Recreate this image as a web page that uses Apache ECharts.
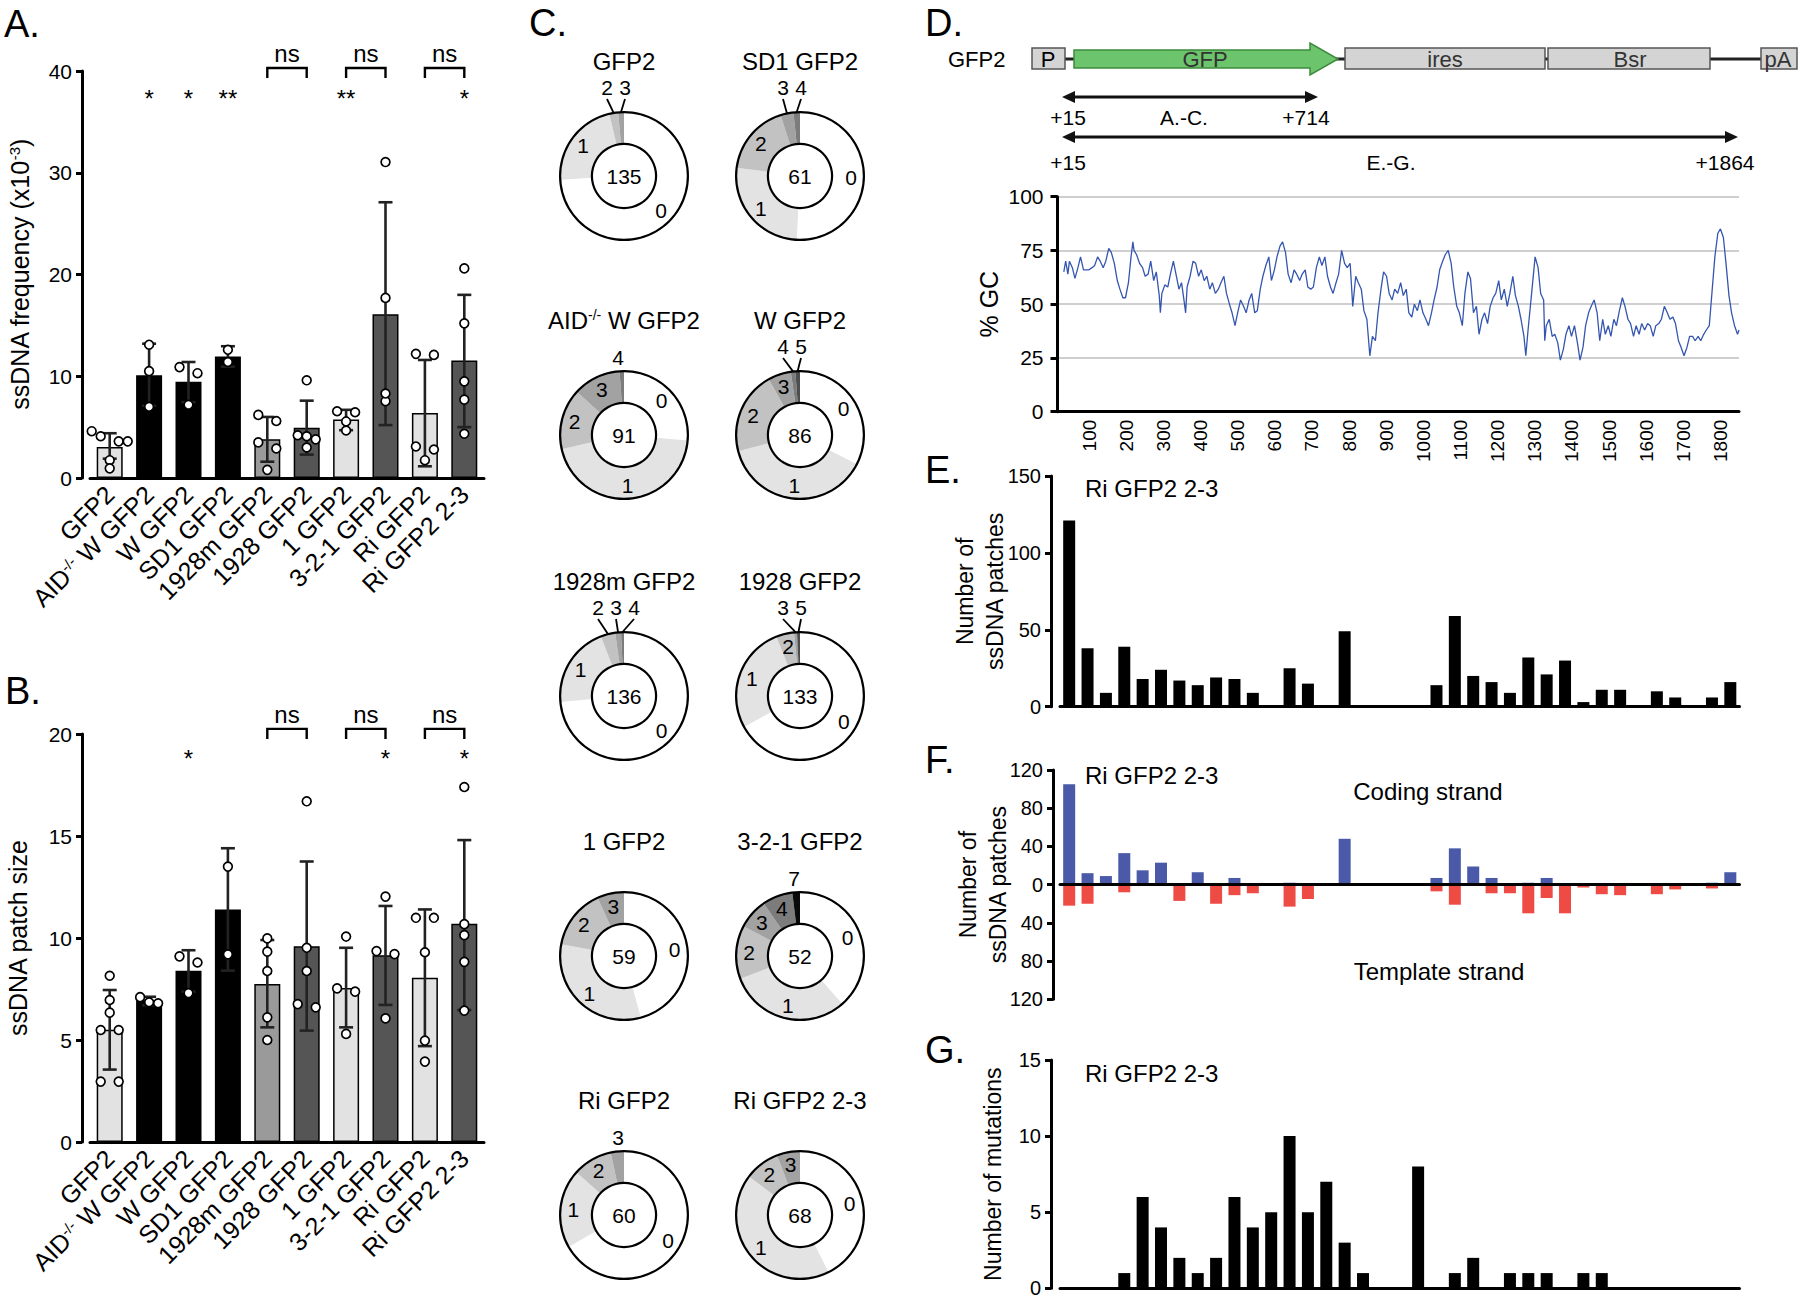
<!DOCTYPE html>
<html><head><meta charset="utf-8">
<script src="https://cdn.jsdelivr.net/npm/echarts@6.0.0/dist/echarts.min.js"></script>
<style>html,body{margin:0;padding:0;background:#fff}#c{width:1800px;height:1301px}</style>
</head><body><div id="c"></div>
<script>
// ---------------- DATA ----------------
const barCats = ['GFP2','AID-/- W GFP2','W GFP2','SD1 GFP2','1928m GFP2','1928 GFP2','1 GFP2','3-2-1 GFP2','Ri GFP2','Ri GFP2 2-3'];
// Panel A: ssDNA frequency (x10^-3)
const freqMean  = [3.05,10.1,9.47,11.95,3.8,4.95,5.75,16.1,6.4,11.55];
const freqErrLo = [1.9,7.1,7.45,10.95,1.6,2.3,4.7,5.2,1.15,5.0];
const freqErrHi = [4.4,13.2,11.4,12.95,6.0,7.6,6.7,27.1,11.6,18.0];
const freqPoints = [[4.6,4.1,3.6,3.6,1.75,0.95],[13.1,10.5,7.0],[10.9,10.3,7.2],[12.6,11.4],[6.2,5.6,3.5,2.9,0.8],[9.6,4.2,4.1,3.8,3.0],[6.46,6.56,5.56,4.67],[31.05,17.7,7.55,8.3],[12.2,12.1,3.1,2.8,1.75],[20.6,15.2,9.5,7.7,4.35]];
const starsA = ['','*','*','**','','','**','','','*'];
// Panel B: ssDNA patch size
const sizeMean  = [5.5,6.95,8.4,11.4,7.75,9.6,7.55,9.15,8.05,10.7];
const sizeErrLo = [3.55,6.7,7.37,8.4,5.62,5.46,5.62,6.72,4.7,6.47];
const sizeErrHi = [7.45,7.12,9.4,14.4,9.9,13.75,9.52,11.57,11.4,14.8];
const sizePoints = [[8.15,6.96,6.34,5.49,5.49,2.96,2.96],[7.1,6.85,6.8],[9.1,8.8,7.3],[13.5,9.2],[9.98,9.33,8.38,6.11,5.0],[16.7,9.52,8.38,6.6,6.76],[10.07,7.53,7.37,5.3],[12.03,9.36,9.21,6.06],[10.99,10.99,9.3,4.97,3.94],[17.4,10.68,10.14,8.83,6.44]];
const starsB = ['','','*','','','','','*','','*'];
const nsPairs = [[4,5],[6,7],[8,9]];
// Panel C: donuts (number of patches per sequence)
const donutNames  = ['GFP2','SD1 GFP2','AID-/- W GFP2','W GFP2','1928m GFP2','1928 GFP2','1 GFP2','3-2-1 GFP2','Ri GFP2','Ri GFP2 2-3'];
const donutTotals = [135,61,91,86,136,133,59,52,60,68];
const donutClasses = [[0,1,2,3],[0,1,2,3,4],[0,1,2,3,4],[0,1,2,3,4,5],[0,1,2,3,4],[0,1,2,3,5],[0,1,2,3],[0,1,2,3,4,7],[0,1,2,3],[0,1,2,3]];
const donutCounts  = [[100,30,3,2],[31,16,11,2,1],[24,41,14,11,1],[28,33,18,5,1,1],[100,28,5,2,1],[89,36,6,1,1],[27,19,9,4],[20,16,7,4,4,1],[40,12,6,2],[29,29,6,4]];
// Panel D: %GC trace [position, %GC]
const gcTicks = [100,200,300,400,500,600,700,800,900,1000,1100,1200,1300,1400,1500,1600,1700,1800];
const gcTrace = [[32,65],[37,70],[43,64],[47,70],[55,67],[62,62],[70,67],[77,72],[85,66],[92,66],[100,66],[108,67],[115,68],[123,72],[130,70],[138,67],[145,70],[153,76],[160,74],[168,69],[176,61],[183,57],[191,53],[198,53],[206,60],[213,72],[218,79],[221,75],[228,73],[236,69],[244,67],[251,63],[259,64],[266,70],[274,61],[281,65],[289,54],[292,46],[296,55],[304,59],[312,58],[319,64],[327,70],[334,64],[342,57],[349,60],[357,50],[360,46],[364,58],[372,63],[380,70],[387,69],[395,63],[402,66],[410,61],[417,63],[425,57],[432,60],[440,55],[448,57],[455,60],[463,63],[470,55],[478,50],[485,46],[493,40],[500,46],[508,52],[516,49],[523,46],[531,52],[538,55],[546,46],[553,47],[561,57],[568,63],[576,68],[584,72],[591,61],[599,66],[606,72],[614,77],[621,79],[629,74],[636,64],[644,60],[652,66],[659,64],[667,61],[674,64],[682,66],[689,58],[697,57],[704,58],[712,67],[720,72],[727,68],[735,72],[742,63],[750,58],[757,55],[765,60],[772,64],[780,75],[788,69],[795,67],[803,69],[810,49],[818,63],[825,60],[833,57],[840,47],[848,43],[856,26],[863,35],[871,33],[878,46],[886,57],[893,65],[901,63],[908,55],[916,52],[923,57],[931,55],[939,60],[946,54],[954,57],[961,46],[969,44],[976,50],[984,47],[991,52],[999,46],[1007,43],[1014,40],[1022,46],[1029,52],[1037,58],[1044,66],[1052,70],[1059,73],[1067,75],[1075,69],[1082,58],[1090,49],[1097,46],[1105,40],[1112,55],[1120,65],[1127,62],[1135,46],[1143,49],[1150,36],[1158,43],[1165,46],[1173,41],[1180,49],[1188,53],[1195,55],[1203,61],[1210,52],[1218,57],[1226,49],[1233,55],[1241,63],[1248,54],[1256,49],[1263,43],[1271,35],[1276,26],[1282,38],[1291,54],[1301,72],[1309,67],[1316,55],[1324,52],[1327,33],[1331,40],[1339,43],[1347,35],[1354,36],[1362,32],[1369,24],[1377,29],[1384,36],[1392,40],[1399,35],[1407,40],[1415,32],[1422,24],[1430,30],[1437,40],[1445,46],[1452,49],[1460,52],[1468,46],[1475,33],[1483,43],[1490,36],[1498,40],[1505,35],[1513,43],[1520,40],[1528,47],[1536,53],[1543,49],[1551,43],[1558,41],[1566,35],[1573,40],[1581,36],[1588,41],[1596,38],[1604,41],[1611,40],[1619,35],[1626,40],[1634,41],[1641,43],[1649,49],[1657,46],[1664,43],[1672,44],[1679,41],[1687,33],[1694,30],[1702,26],[1710,30],[1717,35],[1725,35],[1732,33],[1740,35],[1747,33],[1755,36],[1762,38],[1770,40],[1777,55],[1785,72],[1793,83],[1800,85],[1808,81],[1815,69],[1823,54],[1830,46],[1838,40],[1846,36],[1850,38]];
// Panels E-G: 50-nt bins from +15 to +1864
const binStarts = [15,65,115,165,215,265,315,365,415,465,515,565,615,665,715,765,815,865,915,965,1015,1065,1115,1165,1215,1265,1315,1365,1415,1465,1515,1565,1615,1665,1715,1765,1815];
const patchCounts    = [121,38,9,39,18,24,17,14,19,18,9,0,25,15,0,49,0,0,0,0,14,59,20,16,9,32,21,30,3,11,11,0,10,6,0,6,16];
const codingCounts   = [105,12,9,33,15,23,0,13,0,7,0,0,2,0,0,48,0,0,0,0,7,38,19,7,0,2,7,0,0,0,0,0,0,0,0,2,13];
const templateCounts = [22,20,0,8,0,0,17,0,20,11,9,0,23,15,0,0,0,0,0,0,7,21,0,9,9,30,14,30,3,10,11,0,10,5,0,4,0];
const mutationCounts = [0,0,0,1,6,4,2,1,2,6,4,5,10,5,7,3,1,0,0,8,0,1,2,0,1,1,1,0,1,1,0,0,0,0,0,0,0];

// ---------------- STYLE ----------------
const FONT = '"Liberation Sans", Arial, Helvetica, sans-serif';
const barColors = ['#e2e2e2','#000000','#000000','#000000','#9a9a9a','#555555','#e2e2e2','#555555','#e2e2e2','#555555'];
const classColor = {0:'#ffffff',1:'#e3e3e3',2:'#c2c2c2',3:'#a2a2a2',4:'#7c7c7c',5:'#4e4e4e',7:'#0a0a0a'};
const AX = {color:'#000', width:3};

const chart = echarts.init(document.getElementById('c'), null, {renderer:'svg', width:1800, height:1301});

const barRich = {n:{fontSize:25,color:'#000',fontFamily:FONT}, s:{fontSize:15,color:'#000',verticalAlign:'top',fontFamily:FONT}};
function catLabel(v){ return v.indexOf('AID-/-')===0 ? '{n|AID}{s|-/-}{n|'+v.slice(6)+'}' : '{n|'+v+'}'; }

function swarmOffsets(ys, thr, d){
  const idx = ys.map((y,i)=>i).sort((a,b)=>ys[a]-ys[b]);
  const offs = ys.map(()=>0);
  const rows = []; let row=[idx[0]];
  for(let k=1;k<idx.length;k++){
    if(Math.abs(ys[idx[k]]-ys[idx[k-1]])<thr) row.push(idx[k]); else {rows.push(row); row=[idx[k]];}
  }
  rows.push(row);
  rows.forEach(r=>{ const n=r.length; r.forEach((p,q)=>{ const s = n%2 ? q-(n-1)/2 : (q<n/2 ? q-n/2 : q-n/2+1); offs[p]=s*d; }); });
  return offs;
}

function barPanel(ai, mean, lo, hi, points, stars, starY, brTop, brLeg, nsY){
  const out = [];
  out.push({type:'bar', xAxisIndex:ai, yAxisIndex:ai, barWidth:26, z:2, silent:true,
    itemStyle:{borderColor:'#000', borderWidth:1.5},
    data: mean.map((v,i)=>({value:v, itemStyle:{color:barColors[i]}}))});
  out.push({type:'custom', xAxisIndex:ai, yAxisIndex:ai, z:3, silent:true, clip:false,
    data: mean.map((m,i)=>[i, lo[i], hi[i]]),
    renderItem:(p,api)=>{
      const c=api.value(0), a=api.coord([c,api.value(1)]), b=api.coord([c,api.value(2)]), w=7;
      const st={stroke:'#222', lineWidth:2.6};
      return {type:'group', children:[
        {type:'line', shape:{x1:a[0],y1:a[1],x2:b[0],y2:b[1]}, style:st},
        {type:'line', shape:{x1:b[0]-w,y1:b[1],x2:b[0]+w,y2:b[1]}, style:st},
        {type:'line', shape:{x1:a[0]-w,y1:a[1],x2:a[0]+w,y2:a[1]}, style:st}]};
    }});
  const dots=[]; points.forEach((arr,i)=>arr.forEach((v,j)=>dots.push([i,v,j])));
  out.push({type:'custom', xAxisIndex:ai, yAxisIndex:ai, z:4, silent:true, clip:false, data:dots,
    renderItem:(p,api)=>{
      const c=api.value(0), j=api.value(2), vals=points[c];
      const ys=vals.map(v=>api.coord([c,v])[1]);
      const offs=swarmOffsets(ys,7.5,9);
      const x0=api.coord([c,vals[j]])[0];
      return {type:'circle', shape:{cx:x0+offs[j], cy:ys[j], r:4.4}, style:{fill:'#fff', stroke:'#000', lineWidth:1.7}};
    }});
  out.push({type:'custom', xAxisIndex:ai, yAxisIndex:ai, z:5, silent:true, clip:false,
    data: stars.map((s,i)=>[i]),
    renderItem:(p,api)=>{
      const s=stars[p.dataIndex]; if(!s) return null;
      const pt=api.coord([p.dataIndex, starY]);
      return {type:'text', x:pt[0], y:pt[1], style:{text:s, fill:'#000', font:'24px '+FONT, align:'center', verticalAlign:'middle', textAlign:'center', textVerticalAlign:'middle'}};
    }});
  out.push({type:'custom', xAxisIndex:ai, yAxisIndex:ai, z:5, silent:true, clip:false,
    data: nsPairs.map((pr,i)=>[i]),
    renderItem:(p,api)=>{
      const pr=nsPairs[p.dataIndex];
      const a=api.coord([pr[0],brTop]), b=api.coord([pr[1],brTop]), aL=api.coord([pr[0],brLeg]), bL=api.coord([pr[1],brLeg]);
      const t=api.coord([pr[0],nsY]);
      return {type:'group', children:[
        {type:'polyline', shape:{points:[[aL[0],aL[1]],[a[0],a[1]],[b[0],b[1]],[bL[0],bL[1]]]}, style:{stroke:'#000', lineWidth:2.4, fill:null}},
        {type:'text', x:(a[0]+b[0])/2, y:t[1], style:{text:'ns', fill:'#000', font:'24px '+FONT, align:'center', verticalAlign:'middle', textAlign:'center', textVerticalAlign:'middle'}}]};
    }});
  return out;
}

function barXAxis(gi){
  return {type:'category', gridIndex:gi, data:barCats, z:5,
    axisLine:{lineStyle:AX}, axisTick:{alignWithLabel:true, length:7, lineStyle:AX},
    axisLabel:{interval:0, rotate:45, margin:12, formatter:catLabel, rich:barRich}, splitLine:{show:false}};
}
function valYAxis(gi, min, max, interval, offset, name, nameGap, extra){
  return Object.assign({type:'value', gridIndex:gi, min, max, interval, offset,
    axisLine:{show:true, lineStyle:AX}, axisTick:{show:true, length:6, lineStyle:AX},
    axisLabel:{fontSize:21, color:'#000', margin:10, fontFamily:FONT}, splitLine:{show:false},
    name, nameLocation:'middle', nameRotate:90, nameGap, nameMoveOverlap:false,
    nameTextStyle:{fontSize:25, color:'#000', fontFamily:FONT}}, extra||{});
}
function binXAxis(gi){
  return {type:'category', gridIndex:gi, data:binStarts, z:5,
    axisLine:{onZero:true, lineStyle:AX}, axisTick:{show:false}, axisLabel:{show:false}, splitLine:{show:false}};
}

const G = (l,t,w,h)=>({left:l, top:t, width:w, height:h, containLabel:false, outerBoundsMode:'none'});
const grids = [G(90,71,394,407), G(90,734,394,408), G(1057.5,196.7,681.5,215), G(1060,476,679.5,230.7), G(1060,770,679.5,229.3), G(1060,1060,679.5,228.3)];

const xAxes = [barXAxis(0), barXAxis(1),
  {type:'value', gridIndex:2, min:15, max:1850, z:5,
    axisLine:{lineStyle:AX}, axisTick:{show:false},
    axisLabel:{rotate:90, fontSize:19, color:'#000', margin:8, customValues:gcTicks, fontFamily:FONT, formatter:v=>String(v)},
    splitLine:{show:false}},
  binXAxis(3), binXAxis(4), binXAxis(5)];

const yAxes = [
  valYAxis(0,0,40,10,8,'ssDNA frequency (x10{sup|-3})',50,{nameTextStyle:{fontSize:25,color:'#000',fontFamily:FONT,rich:{sup:{fontSize:15,verticalAlign:'top',fontFamily:FONT}}}}),
  valYAxis(1,0,20,5,8,'ssDNA patch size',52),
  valYAxis(2,0,100,25,0,'% GC',56,{axisTick:{show:true,length:7,lineStyle:AX}, axisLabel:{fontSize:21,color:'#000',margin:14,fontFamily:FONT}, splitLine:{show:true, lineStyle:{color:'#cfcfcf', width:2}}, nameTextStyle:{fontSize:25,color:'#000',fontFamily:FONT}}),
  valYAxis(3,0,150,50,9,'Number of\nssDNA patches',41,{axisLabel:{fontSize:20,color:'#000',margin:10,fontFamily:FONT}, nameTextStyle:{fontSize:23,lineHeight:30,color:'#000',fontFamily:FONT}}),
  valYAxis(4,-120,120,40,7,'Number of\nssDNA patches',40,{axisLabel:{fontSize:20,color:'#000',margin:10,fontFamily:FONT,formatter:v=>String(Math.abs(v))}, nameTextStyle:{fontSize:23,lineHeight:30,color:'#000',fontFamily:FONT}}),
  valYAxis(5,0,15,5,9,'Number of mutations',47,{axisLabel:{fontSize:20,color:'#000',margin:10,fontFamily:FONT}, nameTextStyle:{fontSize:23,color:'#000',fontFamily:FONT}})
];

let series = [];
series = series.concat(barPanel(0, freqMean, freqErrLo, freqErrHi, freqPoints, starsA, 37.25, 40.3, 39.3, 41.7));
series = series.concat(barPanel(1, sizeMean, sizeErrLo, sizeErrHi, sizePoints, starsB, 18.82, 20.25, 19.75, 20.95));

series.push({type:'line', xAxisIndex:2, yAxisIndex:2, data:gcTrace, showSymbol:false, symbol:'none', silent:true, z:3,
  lineStyle:{color:'#3556b0', width:1.3}});

series.push({type:'bar', xAxisIndex:3, yAxisIndex:3, data:patchCounts, barWidth:12, silent:true, itemStyle:{color:'#000'}});
series.push({type:'bar', xAxisIndex:4, yAxisIndex:4, data:codingCounts, barWidth:12, barGap:'-100%', silent:true, itemStyle:{color:'#4b5aa8'}});
series.push({type:'bar', xAxisIndex:4, yAxisIndex:4, data:templateCounts.map(v=>-v), barWidth:12, barGap:'-100%', silent:true, itemStyle:{color:'#ee4b45'}});
series.push({type:'bar', xAxisIndex:5, yAxisIndex:5, data:mutationCounts, barWidth:12, silent:true, itemStyle:{color:'#000'}});

// ---- donuts ----
const donutCX = [624, 800], donutCY = [176, 435, 696, 956, 1215];
const R_OUT = 64, R_IN = 32;
function donutLabelLayout(counts, cx, cy){
  const total = counts.reduce((a,b)=>a+b,0);
  const small = counts.map(c=>c/total<0.04);
  const smallIdx = counts.map((c,i)=>i).filter(i=>small[i]);
  const k = smallIdx.length;
  return function(params){
    const i = params.dataIndex;
    if(!small[i]) return {};
    if(k===1) return {x:cx-6, y:cy-R_OUT-3, align:'center', verticalAlign:'bottom'};
    let cum=0; for(let q=0;q<i;q++) cum+=counts[q];
    const ang = 2*Math.PI*(cum+counts[i]/2)/total;
    const sx = cx+R_OUT*Math.sin(ang), sy = cy-R_OUT*Math.cos(ang);
    const j = smallIdx.indexOf(i);
    const lx = cx-8+(j-(k-1)/2)*18, ly = cy-R_OUT-14;
    return {x:lx, y:ly, align:'center', verticalAlign:'bottom', labelLinePoints:[[sx,sy],[lx,ly+1],[lx,ly+1]]};
  };
}
donutNames.forEach((nm,d)=>{
  const cx = donutCX[d%2], cy = donutCY[Math.floor(d/2)];
  const counts = donutCounts[d], cls = donutClasses[d];
  const total = counts.reduce((a,b)=>a+b,0);
  const k = counts.filter(c=>c/total<0.04).length;
  series.push({type:'pie', center:[cx,cy], radius:[R_IN,R_OUT], startAngle:90, clockwise:true, avoidLabelOverlap:false,
    silent:true, animation:false, z:2, itemStyle:{borderWidth:0},
    label:{show:true, color:'#000', fontSize:21, fontFamily:FONT, formatter:'{b}'},
    labelLine:{show:false, length:10, length2:0, lineStyle:{color:'#000', width:1.8}},
    labelLayout: donutLabelLayout(counts, cx, cy),
    data: counts.map((c,i)=>{ const sm=c/total<0.04; return {value:c, name:String(cls[i]), itemStyle:{color:classColor[cls[i]]},
      label:{position: sm?'outside':'inside'}, labelLine:{show: sm && k>1}}; })});
  series.push({type:'pie', center:[cx,cy], radius:[R_OUT-1.2,R_OUT+1], silent:true, animation:false, z:3,
    itemStyle:{color:'#000', borderWidth:0}, label:{show:false}, labelLine:{show:false}, data:[{value:1,name:''}]});
  series.push({type:'pie', center:[cx,cy], radius:[R_IN-1,R_IN+1.2], silent:true, animation:false, z:3,
    itemStyle:{color:'#000', borderWidth:0}, labelLine:{show:false},
    label:{show:true, position:'center', formatter:String(donutTotals[d]), fontSize:21, color:'#000', fontFamily:FONT},
    data:[{value:1,name:''}]});
});

// ---- graphic texts & gene map ----
const graphics = [];
function txt(x,y,text,size,opt){
  graphics.push({type:'text', x, y, silent:true, z:10,
    style:Object.assign({text, fill:'#000', font:size+'px '+FONT, textAlign:'left', textVerticalAlign:'middle'}, opt||{})});
}
[['A.',4,24],['B.',5,691],['C.',529,23],['D.',925,23],['E.',925,470],['F.',925,760],['G.',925,1050]].forEach(a=>txt(a[1],a[2],a[0],38));
donutNames.forEach((nm,d)=>{
  const cx = donutCX[d%2], cy = donutCY[Math.floor(d/2)];
  if(nm.indexOf('AID-/-')===0){
    txt(cx, cy-115, '{n|AID}{s|-/-}{n|'+nm.slice(6)+'}', 24, {textAlign:'center',
      rich:{n:{fontSize:24,fontFamily:FONT,fill:'#000',color:'#000'}, s:{fontSize:14,fontFamily:FONT,verticalAlign:'top',fill:'#000',color:'#000'}}});
  } else txt(cx, cy-115, nm, 24, {textAlign:'center'});
});
// gene map
graphics.push({type:'line', silent:true, z:8, shape:{x1:1065,y1:59,x2:1762,y2:59}, style:{stroke:'#222', lineWidth:3}});
const boxSt = {fill:'#d4d4d4', stroke:'#555', lineWidth:1.5};
graphics.push({type:'rect', silent:true, z:9, shape:{x:1032,y:48,width:33,height:21}, style:boxSt});
graphics.push({type:'polygon', silent:true, z:9, shape:{points:[[1074,50],[1310,50],[1310,43],[1338,59],[1310,75],[1310,68],[1074,68]]}, style:{fill:'#6cc46c', stroke:'#3d8a3d', lineWidth:1.5}});
graphics.push({type:'rect', silent:true, z:9, shape:{x:1345,y:48,width:200,height:21}, style:boxSt});
graphics.push({type:'rect', silent:true, z:9, shape:{x:1548,y:48,width:162,height:21}, style:boxSt});
graphics.push({type:'rect', silent:true, z:9, shape:{x:1761,y:48,width:36,height:21}, style:boxSt});
txt(948,59,'GFP2',22);
txt(1048,59,'P',22,{textAlign:'center'});
txt(1205,59,'GFP',22,{textAlign:'center', fill:'#333'});
txt(1445,59,'ires',22,{textAlign:'center', fill:'#333'});
txt(1630,59,'Bsr',22,{textAlign:'center', fill:'#333'});
txt(1778,59,'pA',22,{textAlign:'center', fill:'#333'});
function dblArrow(x1,x2,y){
  graphics.push({type:'line', silent:true, z:9, shape:{x1:x1+6,y1:y,x2:x2-6,y2:y}, style:{stroke:'#111', lineWidth:3}});
  graphics.push({type:'polygon', silent:true, z:9, shape:{points:[[x1,y],[x1+13,y-6],[x1+13,y+6]]}, style:{fill:'#111'}});
  graphics.push({type:'polygon', silent:true, z:9, shape:{points:[[x2,y],[x2-13,y-6],[x2-13,y+6]]}, style:{fill:'#111'}});
}
dblArrow(1062,1318,97);
dblArrow(1062,1738,137);
txt(1068,117,'+15',21,{textAlign:'center'}); txt(1184,117,'A.-C.',21,{textAlign:'center'}); txt(1306,117,'+714',21,{textAlign:'center'});
txt(1068,162,'+15',21,{textAlign:'center'}); txt(1391,162,'E.-G.',21,{textAlign:'center'}); txt(1725,162,'+1864',21,{textAlign:'center'});
// panel E-G labels
txt(1085,488,'Ri GFP2 2-3',24);
txt(1085,775,'Ri GFP2 2-3',24);
txt(1085,1073,'Ri GFP2 2-3',24);
txt(1428,791,'Coding strand',24,{textAlign:'center'});
txt(1439,971,'Template strand',24,{textAlign:'center'});

chart.setOption({
  animation:false,
  backgroundColor:'#fff',
  textStyle:{fontFamily:FONT, color:'#000'},
  grid:grids, xAxis:xAxes, yAxis:yAxes, series:series, graphic:graphics
});
</script></body></html>
